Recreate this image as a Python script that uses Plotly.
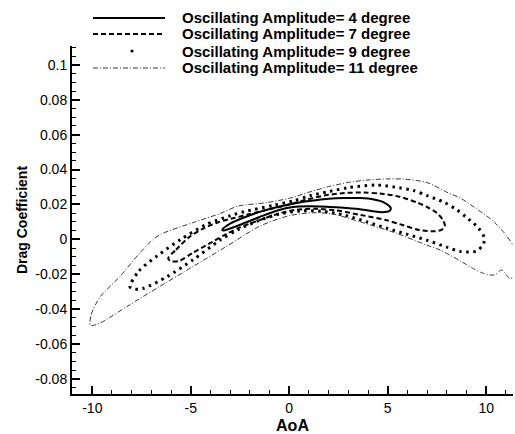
import plotly.graph_objects as go

# Drag coefficient hysteresis loops of the pitching airfoil, one per amplitude.
# Each loop runs from its lowest-AoA tip along the upper branch, round the
# high-AoA tip and back along the lower branch.
aoa_4 = [-3.4, -3.0, -2.3, -1.5, -0.6, 0.3, 1.2, 2.0, 2.8, 3.6, 4.3, 4.8, 5.15,
         5.1, 4.7, 3.6, 2.6, 1.9, 1.0, 0.2, -0.6, -1.5, -2.3, -3.0, -3.35, -3.4]
cd_4 = [0.0055, 0.0090, 0.0125, 0.0157, 0.0185, 0.0207, 0.0222, 0.0233, 0.0237,
        0.0236, 0.0228, 0.0212, 0.0180, 0.0163, 0.0155, 0.0172, 0.0182, 0.0187,
        0.0189, 0.0185, 0.0165, 0.0128, 0.0092, 0.0062, 0.0050, 0.0055]

aoa_7 = [-6.15, -5.75, -5.05, -4.4, -3.6, -2.8, -2.0, -1.1, -0.2, 0.8, 1.8, 2.8,
         3.8, 4.6, 5.6, 6.5, 7.0, 7.5, 7.8, 7.9, 7.75, 7.4, 6.6, 5.8, 4.9, 3.6,
         2.4, 1.3, 0.3, -0.6, -1.5, -2.5, -3.2, -3.9, -4.9, -5.6, -6.0, -6.15]
cd_7 = [-0.0110, -0.0060, 0.0015, 0.0060, 0.0098, 0.0122, 0.0145, 0.0170, 0.0193,
        0.0225, 0.0251, 0.0265, 0.0268, 0.0262, 0.0244, 0.0210, 0.0185, 0.0150,
        0.0112, 0.0075, 0.0055, 0.0046, 0.0053, 0.0080, 0.0110, 0.0140, 0.0165,
        0.0175, 0.0168, 0.0145, 0.0110, 0.0068, 0.0030, -0.0015, -0.0078, -0.0125,
        -0.0125, -0.0110]

aoa_9 = [-8.09, -7.62, -6.7, -5.5, -4.2, -3.0, -2.3, -0.8, 0.2, 1.05, 2.0, 3.0,
         4.4, 5.6, 6.3, 7.0, 7.8, 8.5, 9.0, 9.6, 9.9, 9.85, 9.5, 8.7, 8.0, 7.0,
         6.0, 4.95, 3.9, 2.8, 1.7, 0.6, -0.5, -1.6, -2.6, -3.5, -4.9, -6.2, -7.4,
         -7.9, -8.09]
cd_9 = [-0.0272, -0.0180, -0.0095, 0.0000, 0.0085, 0.0135, 0.0158, 0.0195, 0.0220,
        0.0250, 0.0273, 0.0296, 0.0311, 0.0295, 0.0280, 0.0250, 0.0215, 0.0170,
        0.0125, 0.0065, 0.0010, -0.0030, -0.0068, -0.0070, -0.0045, -0.0006,
        0.0028, 0.0063, 0.0101, 0.0138, 0.0160, 0.0163, 0.0145, 0.0105, 0.0055,
        -0.0004, -0.0119, -0.0214, -0.0281, -0.0285, -0.0272]

aoa_11 = [-10.12, -10.05, -9.6, -8.6, -7.6, -6.9, -6.5, -4.9, -3.5, -2.6, -1.15,
          0.0, 1.0, 2.0, 3.0, 4.0, 5.0, 5.8, 7.0, 8.0, 8.7, 9.5, 10.35, 11.0,
          11.37, 11.6, 11.6, 11.2, 10.8, 10.4, 9.85, 9.3, 8.7, 7.65, 6.97, 5.3,
          3.6, 2.2, 1.2, 0.0, -1.5, -3.2, -4.9, -6.6, -8.25, -9.6, -10.05, -10.12]
cd_11 = [-0.0491, -0.0430, -0.0330, -0.0214, -0.0080, 0.0000, 0.0030, 0.0095,
         0.0148, 0.0190, 0.0210, 0.0235, 0.0270, 0.0302, 0.0326, 0.0340, 0.0346,
         0.0345, 0.0325, 0.0270, 0.0235, 0.0175, 0.0105, 0.0025, -0.0035, -0.0080,
         -0.0200, -0.0224, -0.0176, -0.0205, -0.0195, -0.0166, -0.0125, -0.0061,
         -0.0033, 0.0040, 0.0100, 0.0145, 0.0152, 0.0135, 0.0075, -0.0042, -0.0157,
         -0.0272, -0.0386, -0.0480, -0.0495, -0.0491]

series_names = ["Oscillating Amplitude= 4 degree",
                "Oscillating Amplitude= 7 degree",
                "Oscillating Amplitude= 9 degree",
                "Oscillating Amplitude= 11 degree"]

x_tick_vals = [-10, -5, 0, 5, 10]
x_tick_text = ["-10", "-5", "0", "5", "10"]
y_tick_vals = [-0.08, -0.06, -0.04, -0.02, 0, 0.02, 0.04, 0.06, 0.08, 0.1]
y_tick_text = ["-0.08", "-0.06", "-0.04", "-0.02", "0", "0.02", "0.04", "0.06",
               "0.08", "0.1"]

FONT = "Liberation Sans, Arial, sans-serif"

styles = [
    dict(color="black", width=2.0, dash="solid"),
    dict(color="black", width=2.0, dash="5px,3px"),
    dict(color="black", width=3.0, dash="2.5px,4.5px"),
    dict(color="#222222", width=0.9, dash="5px,2px,1px,2px"),
]

fig = go.Figure()
for xs, ys, name, st in zip([aoa_4, aoa_7, aoa_9, aoa_11],
                            [cd_4, cd_7, cd_9, cd_11], series_names, styles):
    fig.add_trace(go.Scatter(
        x=xs, y=ys, name=name, mode="lines", showlegend=False,
        line=dict(shape="spline", smoothing=0.8, **st),
    ))

# Hand-drawn key above the axes: a sample stroke plus bold label per series
shapes = []
annotations = []
row_y = [1.0805, 1.0345, 0.9856, 0.9368]
for i, (name, st) in enumerate(zip(series_names, styles)):
    if i == 2:
        shapes.append(dict(type="circle", xref="paper", yref="paper",
                           xsizemode="pixel", ysizemode="pixel",
                           xanchor=0.136, yanchor=row_y[i],
                           x0=-1.6, x1=1.6, y0=-1.6, y1=1.6,
                           fillcolor="black", line=dict(width=0)))
    else:
        shapes.append(dict(type="line", xref="paper", yref="paper",
                           x0=0.0476, x1=0.2109, y0=row_y[i], y1=row_y[i],
                           line=dict(color=st["color"], width=st["width"],
                                     dash=st["dash"])))
    annotations.append(dict(text="<b>%s</b>" % name, xref="paper", yref="paper",
                            x=0.2449, y=row_y[i], xanchor="left", yanchor="middle",
                            showarrow=False,
                            font=dict(family=FONT, size=15, color="black")))

fig.update_layout(
    width=515, height=434,
    margin=dict(l=72, r=2, t=46, b=40),
    paper_bgcolor="white", plot_bgcolor="white",
    shapes=shapes, annotations=annotations,
    font=dict(family=FONT, color="black"),
)

fig.update_xaxes(
    range=[-11.03, 11.36], showgrid=False, zeroline=False,
    showline=True, linecolor="black", linewidth=2,
    tickmode="array", tickvals=x_tick_vals, ticktext=x_tick_text,
    ticks="inside", ticklen=8, tickwidth=1.5, tickcolor="black",
    minor=dict(tick0=0, dtick=1, ticks="inside", ticklen=4, tickwidth=1.2,
               tickcolor="black", showgrid=False),
    tickfont=dict(family=FONT, size=14, color="black"),
    title=dict(text="<b>AoA</b>", font=dict(family=FONT, size=16, color="black"),
               standoff=13),
    automargin=False,
)
fig.update_yaxes(
    range=[-0.0887, 0.1108], showgrid=False, zeroline=False,
    showline=True, linecolor="black", linewidth=2,
    tickmode="array", tickvals=y_tick_vals, ticktext=y_tick_text,
    ticks="inside", ticklen=8, tickwidth=1.5, tickcolor="black",
    minor=dict(tick0=0, dtick=0.005, ticks="inside", ticklen=4, tickwidth=1.2,
               tickcolor="black", showgrid=False),
    tickfont=dict(family=FONT, size=14, color="black"),
    title=dict(text="<b>Drag Coefficient</b>",
               font=dict(family=FONT, size=14, color="black"), standoff=4),
    automargin=False,
)

fig.write_html("out.html")
